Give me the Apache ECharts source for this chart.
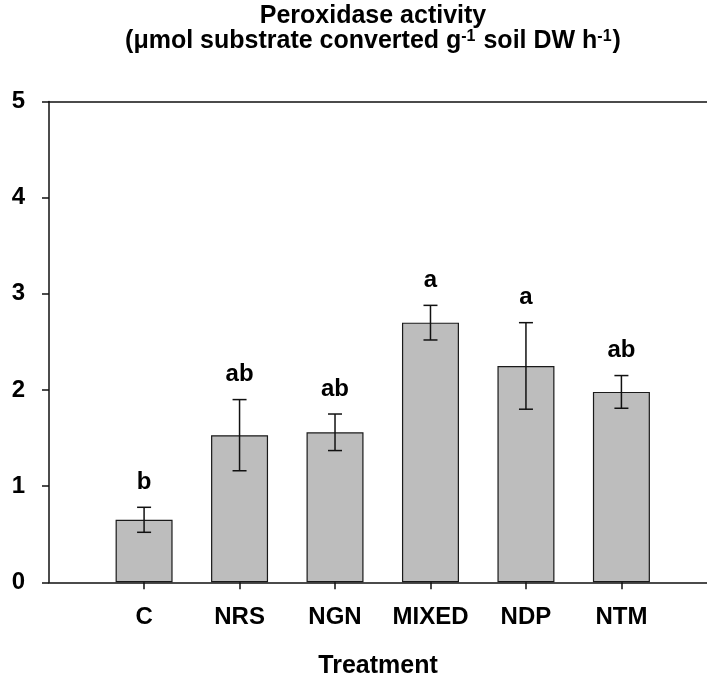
<!DOCTYPE html>
<html>
<head>
<meta charset="utf-8">
<script src="https://cdn.jsdelivr.net/npm/echarts@6/dist/echarts.min.js"></script>
<style>
  html, body { margin: 0; padding: 0; background: #fff; }
  #chart { width: 707px; height: 677px; }
</style>
</head>
<body>
<div id="chart"></div>
<script>
// treatments and their peroxidase activity (mean and error)
const categories = ['C', 'NRS', 'NGN', 'MIXED', 'NDP', 'NTM']
const means = [0.65, 1.53, 1.56, 2.70, 2.25, 1.98]
const errors = [0.13, 0.37, 0.19, 0.18, 0.45, 0.17]
const letters = ['b', 'ab', 'ab', 'a', 'a', 'ab']
const yMin = 0
const yMax = 5
const yStep = 1

const FONT = '"Liberation Sans", Arial, sans-serif'
const INK = '#111'

const chart = echarts.init(document.getElementById('chart'))

// error bars + letters drawn through the category/value scales
const renderError = (params, api) => {
  const i = api.value(0)
  const m = api.value(1)
  const e = api.value(2)
  const top = api.coord([i, m + e])
  const bot = api.coord([i, m - e])
  const half = 7
  const lineStyle = { stroke: INK, lineWidth: 1.5 }
  return {
    type: 'group',
    children: [
      { type: 'line', shape: { x1: top[0], y1: top[1], x2: bot[0], y2: bot[1] }, style: lineStyle },
      { type: 'line', shape: { x1: top[0] - half, y1: top[1], x2: top[0] + half, y2: top[1] }, style: lineStyle },
      { type: 'line', shape: { x1: bot[0] - half, y1: bot[1], x2: bot[0] + half, y2: bot[1] }, style: lineStyle },
      {
        type: 'text',
        x: top[0],
        y: top[1] - 25,
        style: {
          text: letters[params.dataIndex],
          font: 'bold 24px ' + FONT,
          fill: '#000',
          align: 'center',
          verticalAlign: 'middle'
        }
      }
    ]
  }
}

const option = {
  backgroundColor: '#fff',
  animation: false,
  title: {
    left: 373,
    top: 4,
    padding: 0,
    textAlign: 'center',
    text: '{t|Peroxidase activity}\n{t|(μmol substrate converted g}{s|-1}{t| soil DW h}{s|-1}{t|)}',
    textStyle: {
      rich: {
        t: { fontFamily: FONT, fontWeight: 'bold', fontSize: 25, lineHeight: 25, color: '#000' },
        s: { fontFamily: FONT, fontWeight: 'bold', fontSize: 16, lineHeight: 25, color: '#000', verticalAlign: 'top', padding: [0, 1, 14, 0] }
      }
    }
  },
  grid: [
    // frame: y axis, bottom and top lines
    { left: 49, right: 0, top: 101.5, bottom: 94.7, outerBoundsMode: 'none' },
    // where the bars sit
    { left: 96.35, right: 37.85, top: 101.5, bottom: 94.7, outerBoundsMode: 'none' }
  ],
  xAxis: [
    {
      gridIndex: 0,
      type: 'value',
      min: 0,
      max: 1,
      position: 'bottom',
      axisLine: { show: true, onZero: false, lineStyle: { color: INK, width: 1.5 } },
      axisTick: { show: false },
      axisLabel: { show: false },
      splitLine: { show: false },
      name: 'Treatment',
      nameLocation: 'middle',
      nameGap: 71,
      nameTextStyle: { fontFamily: FONT, fontWeight: 'bold', fontSize: 25, color: '#000' }
    },
    {
      gridIndex: 0,
      type: 'value',
      min: 0,
      max: 1,
      position: 'top',
      axisLine: { show: true, onZero: false, lineStyle: { color: INK, width: 1.5 } },
      axisTick: { show: false },
      axisLabel: { show: false },
      splitLine: { show: false }
    },
    {
      gridIndex: 1,
      type: 'category',
      data: categories,
      position: 'bottom',
      axisLine: { show: false },
      axisTick: { show: true, alignWithLabel: true, inside: false, length: 7, lineStyle: { color: INK, width: 1.5 } },
      axisLabel: { interval: 0, margin: 23, fontFamily: FONT, fontWeight: 'bold', fontSize: 24, color: '#000' }
    }
  ],
  yAxis: [
    {
      gridIndex: 0,
      type: 'value',
      min: yMin,
      max: yMax,
      interval: yStep,
      axisLine: { show: true, lineStyle: { color: INK, width: 1.5 } },
      axisTick: { show: true, inside: false, length: 7, lineStyle: { color: INK, width: 1.5 } },
      axisLabel: { margin: 24, fontFamily: FONT, fontWeight: 'bold', fontSize: 24, color: '#000' },
      splitLine: { show: false }
    },
    {
      gridIndex: 1,
      type: 'value',
      min: yMin,
      max: yMax,
      show: false
    }
  ],
  series: [
    {
      type: 'bar',
      xAxisIndex: 2,
      yAxisIndex: 1,
      barWidth: 57,
      data: means,
      itemStyle: { color: '#bdbdbd', borderColor: '#1a1a1a', borderWidth: 1.2 }
    },
    {
      type: 'custom',
      xAxisIndex: 2,
      yAxisIndex: 1,
      renderItem: renderError,
      data: means.map((m, i) => [i, m, errors[i]]),
      z: 5
    }
  ]
}

chart.setOption(option)
</script>
</body>
</html>
